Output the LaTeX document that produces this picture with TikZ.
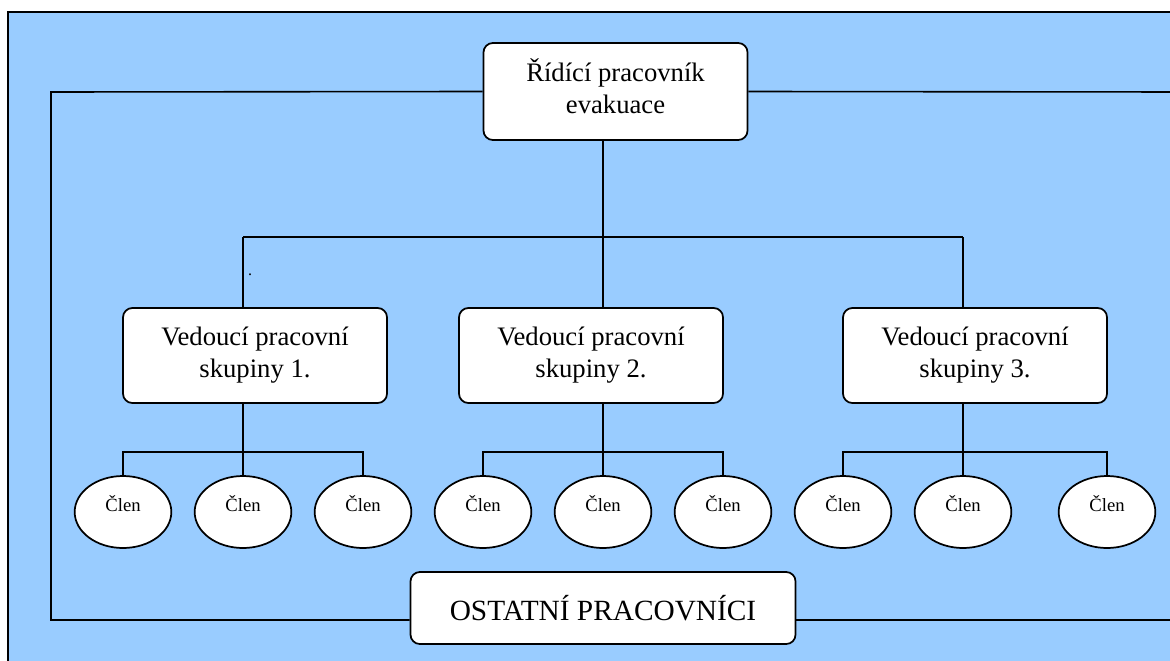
\documentclass[tikz,border=0pt]{standalone}
\usepackage{fontspec}
\setmainfont{Liberation Serif}
\usetikzlibrary{shapes.geometric}
\definecolor{bg}{HTML}{99CCFF}
\begin{document}
\begin{tikzpicture}[x=0.75pt,y=-0.75pt,
  conn/.style={line width=1.2pt},
  box/.style={draw, line width=1.3pt, fill=white, rounded corners=7pt, align=center,
    inner sep=0pt, font=\fontsize{20}{24}\selectfont},
  member/.style={draw, ellipse, line width=1.3pt, fill=white, inner sep=0pt,
    minimum width=72.5pt, minimum height=54pt, font=\fontsize{14}{16}\selectfont,
    text height=12.2pt, text depth=13.7pt}
]
\useasboundingbox (0,0) rectangle (1170,660);
\begin{scope}
\clip (0,0) rectangle (1170,660);
\draw[line width=1.6pt, fill=bg] (8,12) rectangle (1185,675);

% coordinates
\coordinate (lt) at (51,92);
\coordinate (lb) at (51,620);
\coordinate (rt) at (1185,92);
\coordinate (rb) at (1185,620);
\coordinate (j1) at (243,237);
\coordinate (j2) at (603,237);
\coordinate (j3) at (963,237);
\coordinate (h1) at (243,452);
\coordinate (h2) at (603,452);
\coordinate (h3) at (963,452);

% nodes
\node[box, minimum width=198pt, minimum height=72.75pt] (top) at (615.5,91.5) {Řídící pracovník\\evakuace\\[-16pt]};
\node[box, minimum width=198pt, minimum height=71.25pt] (g1) at (255,355.5) {Vedoucí pracovní\\skupiny 1.};
\node[box, minimum width=198pt, minimum height=71.25pt] (g2) at (591,355.5) {Vedoucí pracovní\\skupiny 2.};
\node[box, minimum width=198pt, minimum height=71.25pt] (g3) at (975,355.5) {Vedoucí pracovní\\skupiny 3.};
\node[box, minimum width=288.75pt, minimum height=54pt, font=\fontsize{22}{26}\selectfont] (bot) at (603,608) {OSTATNÍ PRACOVNÍCI};

\node[member] (m11) at (123,512) {Člen};
\node[member] (m12) at (243,512) {Člen};
\node[member] (m13) at (363,512) {Člen};
\node[member] (m21) at (483,512) {Člen};
\node[member] (m22) at (603,512) {Člen};
\node[member] (m23) at (723,512) {Člen};
\node[member] (m31) at (843,512) {Člen};
\node[member] (m32) at (963,512) {Člen};
\node[member] (m33) at (1107,512) {Člen};

\node[font=\fontsize{12}{14}\selectfont, inner sep=0pt] (dot) at (250,275) {.};

% connectors
\draw[conn] (top.south -| j2) -- (j2);
\draw[conn] (j1) -- (j3);
\draw[conn] (j1) -- (j1 |- g1.north);
\draw[conn] (j2) -- (j2 |- g2.north);
\draw[conn] (j3) -- (j3 |- g3.north);

\draw[conn] (g1.south -| h1) -- (m12.north);
\draw[conn] (m11.north) -- (m11.north |- h1) -- (m13.north |- h1) -- (m13.north);
\draw[conn] (g2.south -| h2) -- (m22.north);
\draw[conn] (m21.north) -- (m21.north |- h2) -- (m23.north |- h2) -- (m23.north);
\draw[conn] (g3.south -| h3) -- (m32.north);
\draw[conn] (m31.north) -- (m31.north |- h3) -- (m33.north |- h3) -- (m33.north);

\draw[conn] (top.west) -- (lt) -- (lb) -- (lb -| bot.west);
\draw[conn] (top.east) -- (rt);
\draw[conn] (lb -| bot.east) -- (rb);
\end{scope}
\end{tikzpicture}
\end{document}
